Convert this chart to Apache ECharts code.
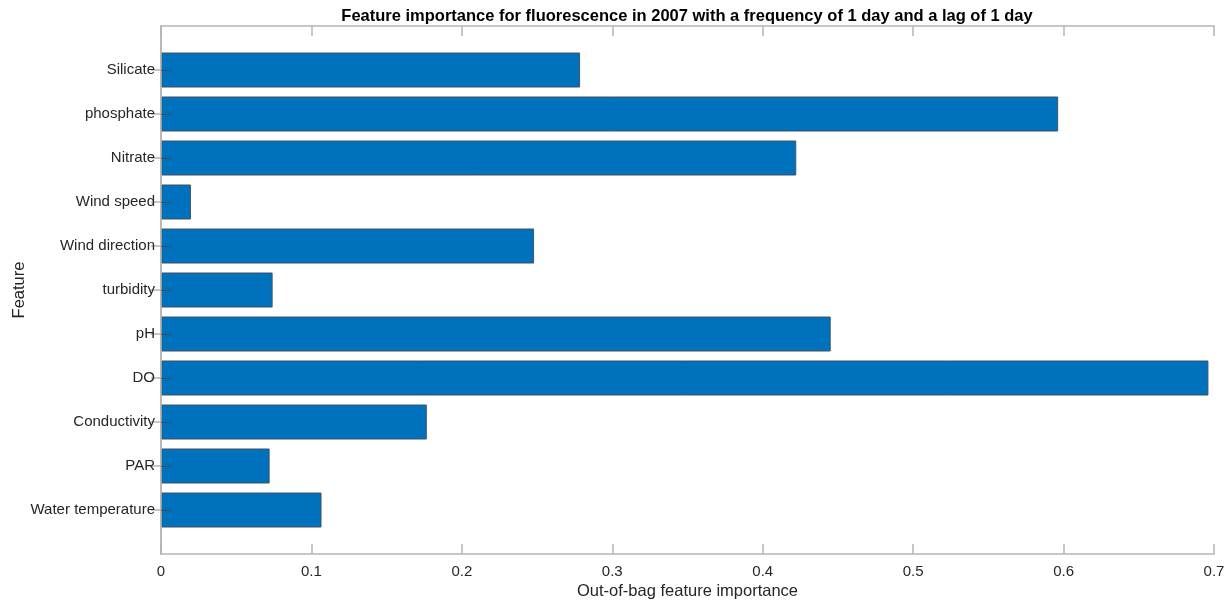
<!DOCTYPE html>
<html>
<head>
<meta charset="utf-8">
<script src="https://cdn.jsdelivr.net/npm/echarts@6/dist/echarts.min.js"></script>
<style>
  html, body { margin: 0; padding: 0; background: #ffffff; }
  #chart { width: 1232px; height: 605px; }
</style>
</head>
<body>
<div id="chart"></div>
<script>
// Features, listed bottom to top
const features = [
  'Water temperature', 'PAR', 'Conductivity', 'DO', 'pH', 'turbidity',
  'Wind direction', 'Wind speed', 'Nitrate', 'phosphate', 'Silicate'
];
// Out-of-bag feature importance per feature
const importance = [
  0.1067, 0.0722, 0.1767, 0.6963, 0.4452, 0.0742,
  0.2480, 0.0199, 0.4223, 0.5964, 0.2786
];
const xTicks = { min: 0, max: 0.7, interval: 0.1 };

// Empty slots at both ends leave half a row of space above and below
const rows = [''].concat(features, ['']);
const barData = importance.map((v, i) => [v, i + 1]);
const innerRow = (i) => i > 0 && i < rows.length - 1;

const FONT = '"Liberation Sans", Arial, Helvetica, sans-serif';
const FRAME = '#b5b5b5';
const TEXT = '#262626';

const chart = echarts.init(document.getElementById('chart'), null, { renderer: 'canvas' });

chart.setOption({
  animation: false,
  backgroundColor: '#ffffff',
  title: {
    text: 'Feature importance for fluorescence in 2007 with a frequency of 1 day and a lag of 1 day',
    left: 687,
    textAlign: 'center',
    top: 8,
    padding: 0,
    textStyle: { fontFamily: FONT, fontSize: 16.5, fontWeight: 'bold', color: '#000000' }
  },
  grid: { left: 161, right: 18, top: 26, bottom: 51, containLabel: false, outerBoundsMode: 'none' },
  xAxis: [
    {
      type: 'value',
      position: 'bottom',
      min: xTicks.min, max: xTicks.max, interval: xTicks.interval,
      name: 'Out-of-bag feature importance',
      nameLocation: 'middle',
      nameGap: 29,
      nameMoveOverlap: false,
      nameTextStyle: { fontFamily: FONT, fontSize: 16.5, color: TEXT },
      axisLine: { show: true, lineStyle: { color: FRAME, width: 1.5 } },
      axisTick: { show: true, inside: true, length: 10, lineStyle: { color: FRAME, width: 1.5 } },
      axisLabel: { fontFamily: FONT, fontSize: 15, color: TEXT, margin: 10 },
      splitLine: { show: false }
    },
    {
      type: 'value',
      position: 'top',
      min: xTicks.min, max: xTicks.max, interval: xTicks.interval,
      axisLine: { show: true, lineStyle: { color: FRAME, width: 1.5 } },
      axisTick: { show: true, inside: true, length: 10, lineStyle: { color: FRAME, width: 1.5 } },
      axisLabel: { show: false },
      splitLine: { show: false }
    }
  ],
  yAxis: [
    {
      type: 'category',
      position: 'left',
      data: rows,
      boundaryGap: false,
      name: 'Feature',
      nameLocation: 'middle',
      nameGap: 133,
      nameMoveOverlap: false,
      nameTextStyle: { fontFamily: FONT, fontSize: 16.5, color: TEXT },
      axisLine: { show: true, lineStyle: { color: FRAME, width: 1.5 } },
      axisTick: { show: true, inside: true, length: 10, interval: innerRow, lineStyle: { color: '#4a4a4a', width: 1 } },
      axisLabel: { interval: 0, fontFamily: FONT, fontSize: 15, color: TEXT, margin: 6 },
      splitLine: { show: false },
      z: 3
    },
    {
      type: 'category',
      position: 'right',
      data: rows,
      boundaryGap: false,
      axisLine: { show: true, lineStyle: { color: FRAME, width: 1.5 } },
      axisTick: { show: true, inside: true, length: 10, interval: innerRow, lineStyle: { color: FRAME, width: 1.5 } },
      axisLabel: { show: false },
      splitLine: { show: false }
    }
  ],
  series: [
    {
      type: 'bar',
      xAxisIndex: 0,
      yAxisIndex: 0,
      data: barData,
      encode: { x: 0, y: 1 },
      barWidth: 35,
      itemStyle: { color: '#0072BD', borderColor: '#3f5266', borderWidth: 1 },
      z: 2
    }
  ]
});
</script>
</body>
</html>
